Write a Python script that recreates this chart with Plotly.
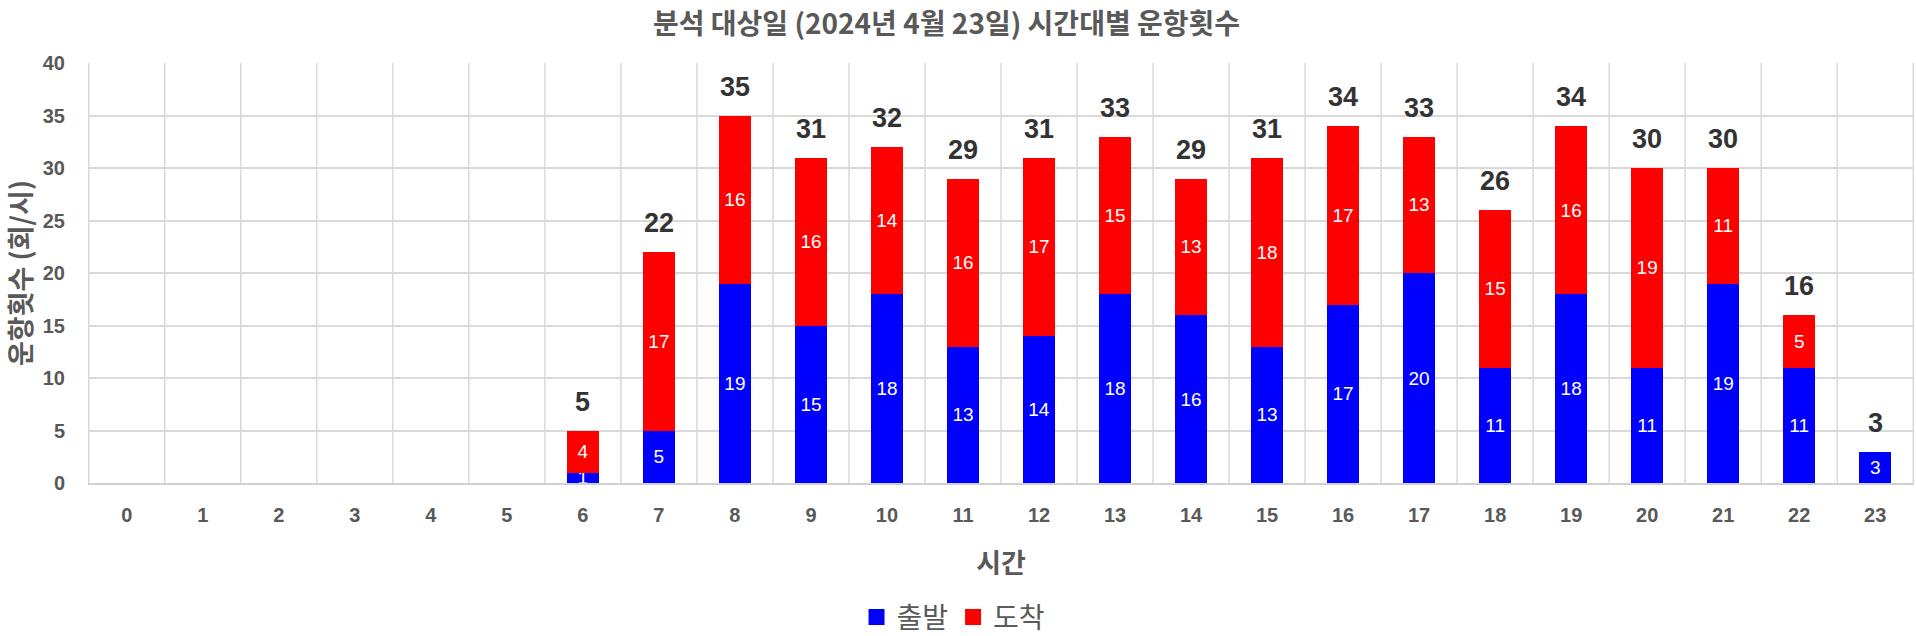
import plotly.graph_objects as go

hours = [str(h) for h in range(24)]
departures = [0, 0, 0, 0, 0, 0, 1, 5, 19, 15, 18, 13, 14, 18, 16, 13, 17, 20, 11, 18, 11, 19, 11, 3]
arrivals = [0, 0, 0, 0, 0, 0, 4, 17, 16, 16, 14, 16, 17, 15, 13, 18, 17, 13, 15, 16, 19, 11, 5, 0]
totals = [d + a for d, a in zip(departures, arrivals)]

FONT = "Noto Sans CJK KR"
BLUE = "#0000FF"
RED = "#FF0000"

def seg_text(vals):
    return [str(v) if v > 0 else "" for v in vals]

fig = go.Figure()
fig.add_trace(go.Bar(
    x=hours, y=departures, name="출발", marker_color=BLUE, showlegend=False,
    text=seg_text(departures), textposition="inside", insidetextanchor="middle",
    textfont=dict(color="white", size=19, family="Liberation Sans"),
    textangle=0, constraintext="none"))
fig.add_trace(go.Bar(
    x=hours, y=arrivals, name="도착", marker_color=RED, showlegend=False,
    text=seg_text(arrivals), textposition="inside", insidetextanchor="middle",
    textfont=dict(color="white", size=19, family="Liberation Sans"),
    textangle=0, constraintext="none"))
# legend entries with larger square symbols
for name, col in [("출발", BLUE), ("도착", RED)]:
    fig.add_trace(go.Scatter(x=[None], y=[None], mode="markers", name=name,
                             marker=dict(symbol="square", size=16, color=col)))

for h, t in zip(hours, totals):
    if t > 0:
        fig.add_annotation(x=h, y=t, text=f"<b>{t}</b>", showarrow=False,
                           yshift=29, font=dict(size=27, color="#333333", family="Liberation Sans"))

fig.update_layout(
    barmode="stack", bargap=0.58,
    width=1916, height=636,
    paper_bgcolor="white", plot_bgcolor="white",
    margin=dict(l=88, r=2, t=63, b=153, autoexpand=False),
    title=dict(text="<b>분석 대상일 (2024년 4월 23일) 시간대별 운항횟수</b>", x=0.494, xanchor="center",
               yref="container", y=0.962, yanchor="middle",
               font=dict(family=FONT, size=28, color="#595959")),
    legend=dict(orientation="h", x=0.474, xanchor="center", y=-0.32, yanchor="middle",
                font=dict(family=FONT, size=28, color="#595959"), itemwidth=30,
                traceorder="normal", tracegroupgap=0),
    showlegend=True,
)
fig.update_xaxes(
    type="category", showgrid=False, showline=True, linecolor="#D0D0D0", linewidth=2,
    automargin=False,
    tickfont=dict(family="Liberation Sans", size=20, color="#595959", weight="bold"),
    ticks="", ticklabelstandoff=13,
    title=dict(text="<b>시간</b>", font=dict(family=FONT, size=27, color="#595959"), standoff=29),
)
# vertical gridlines between categories
for i in range(len(hours) + 1):
    fig.add_shape(type="line", xref="x", yref="paper", x0=i - 0.5, x1=i - 0.5, y0=0, y1=1,
                  line=dict(color="#D9D9D9", width=1.5), layer="below")
fig.update_yaxes(
    range=[0, 40], dtick=5, showgrid=True, gridcolor="#D9D9D9", gridwidth=1.5,
    zeroline=False, showline=False, automargin=False,
    tickfont=dict(family="Liberation Sans", size=20, color="#595959", weight="bold"),
    ticklabelstandoff=22,
    title=dict(text="<b>운항횟수 (회/시)</b>", font=dict(family=FONT, size=27, color="#595959"), standoff=12),
)
fig.update_traces(marker_line_width=0, selector=dict(type="bar"))

fig.write_html("out.html")
